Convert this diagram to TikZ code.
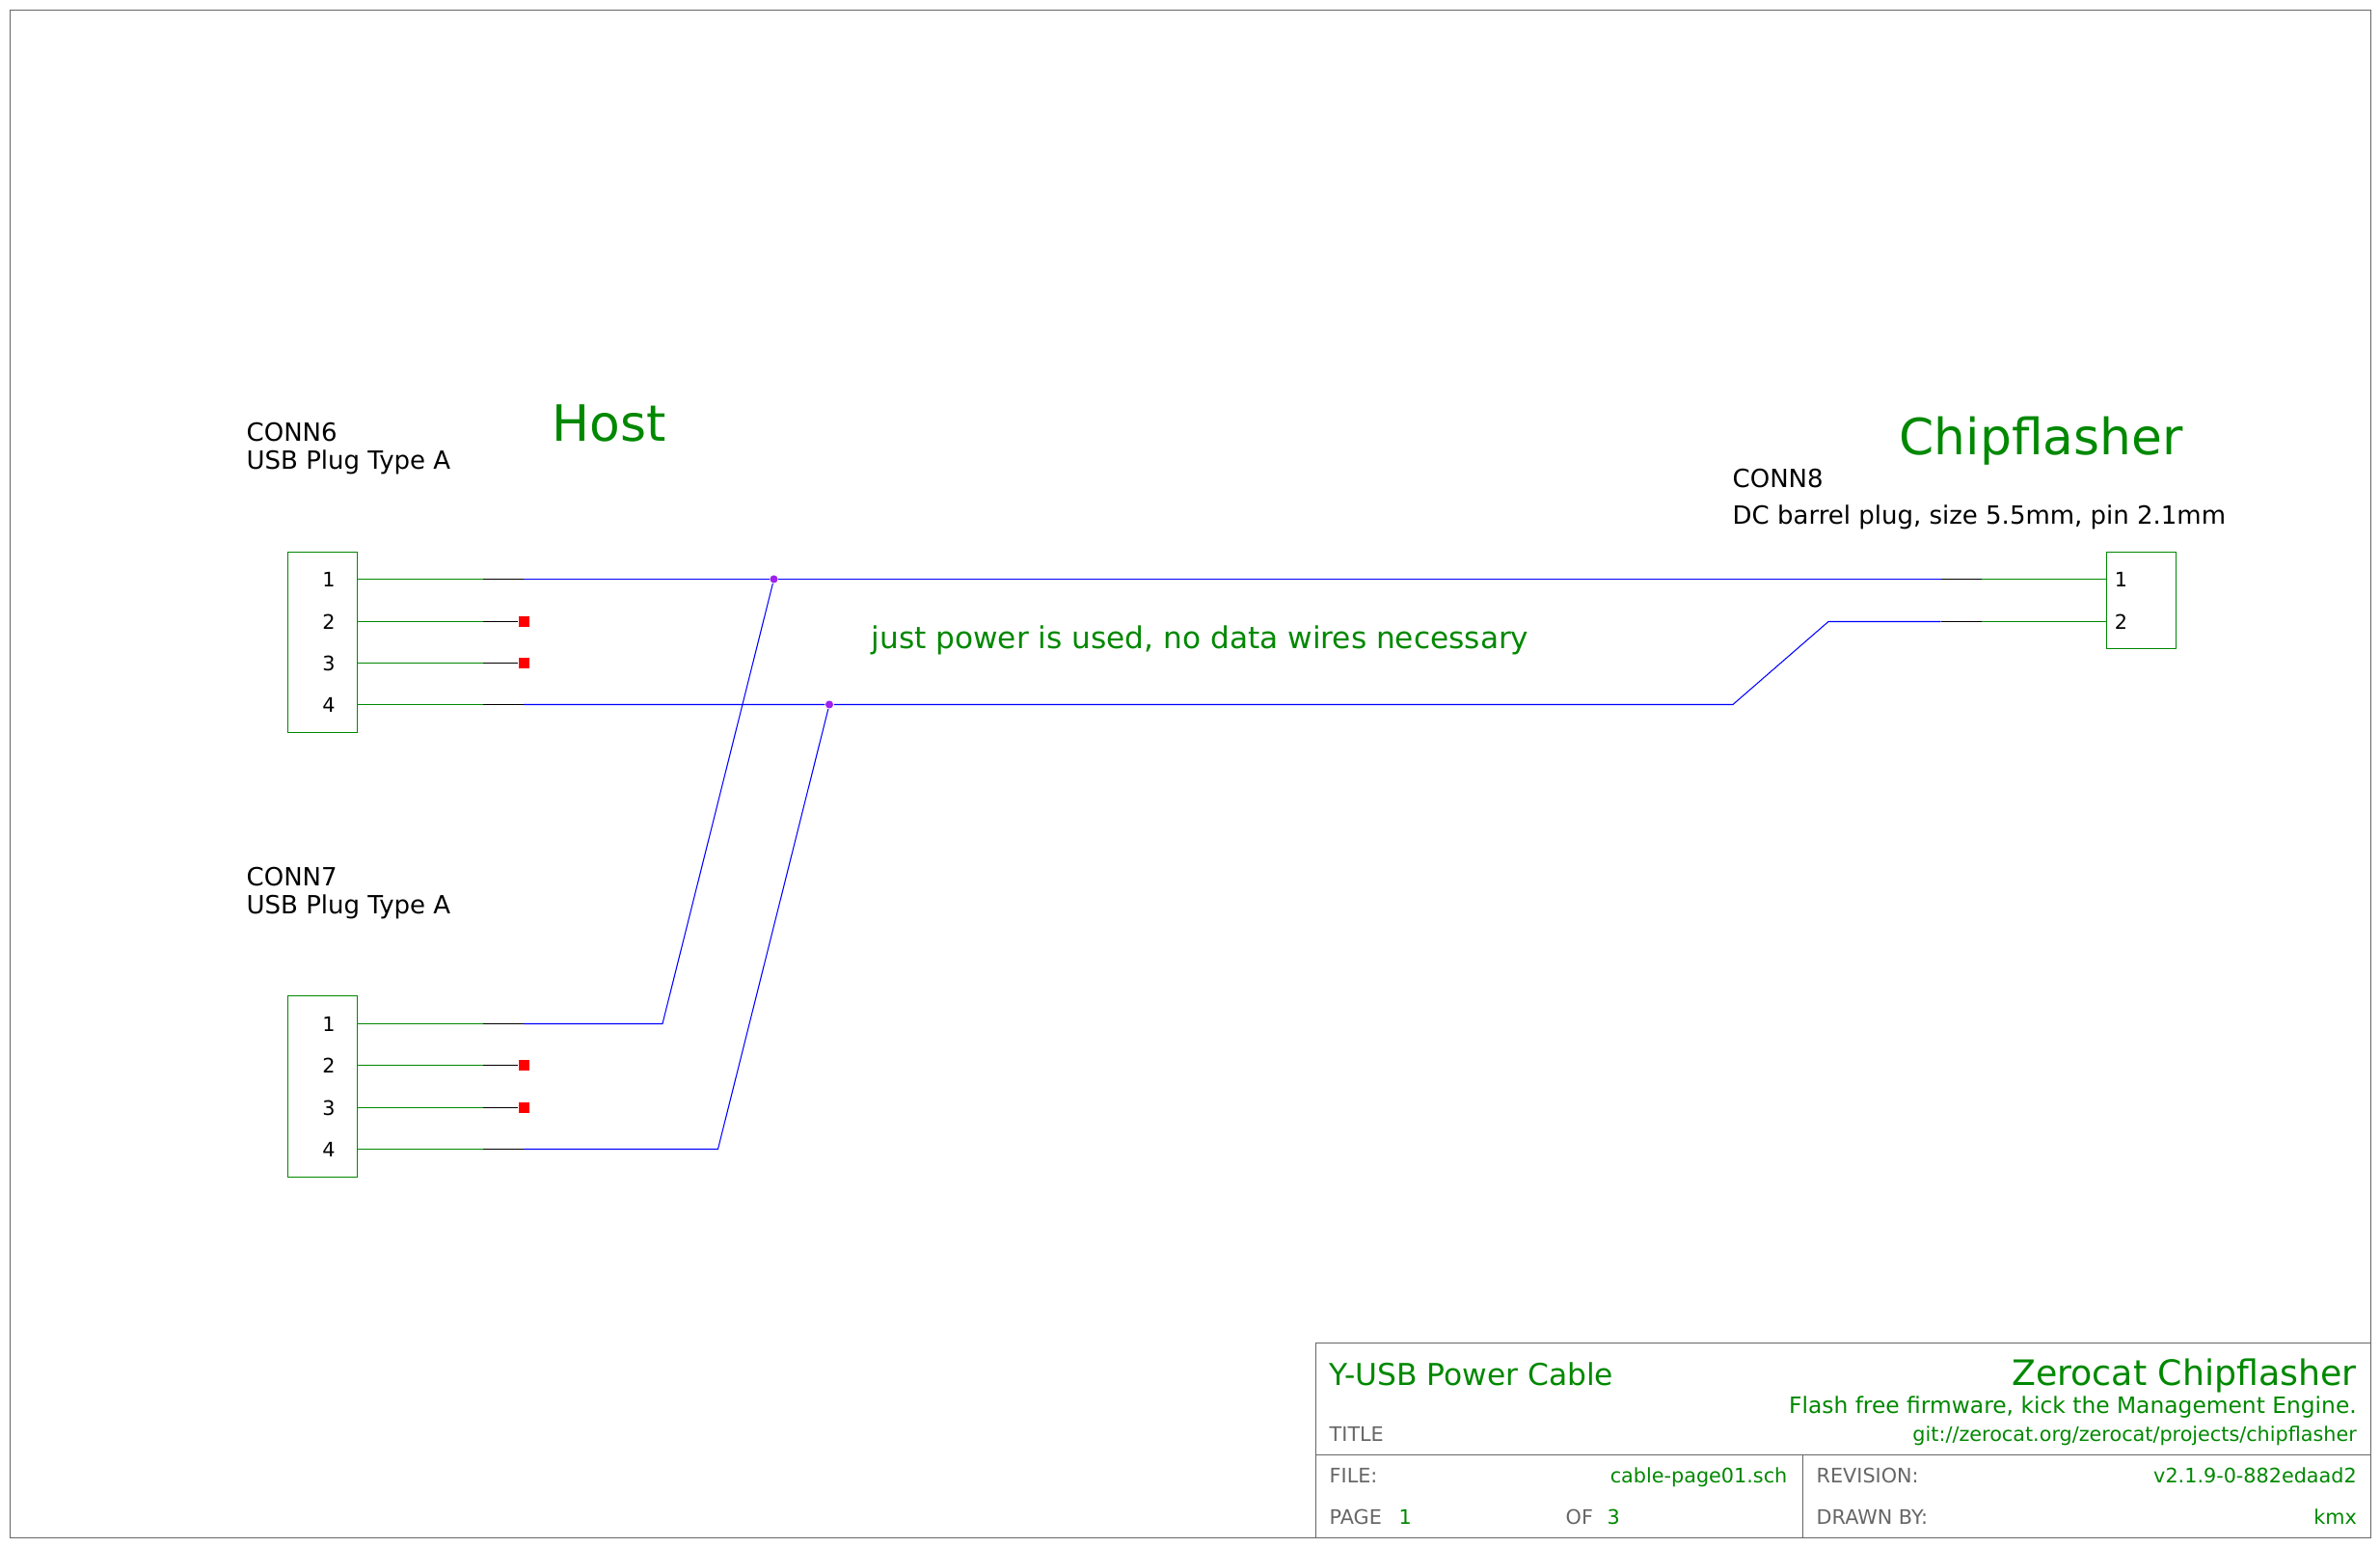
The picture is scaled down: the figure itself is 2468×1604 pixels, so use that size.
\documentclass[tikz,border=0pt]{standalone}
\usepackage{fontspec}
\setmainfont{DejaVu Sans}
\definecolor{schgreen}{RGB}{0,136,0}
\definecolor{schgray}{RGB}{102,102,102}
\definecolor{schpurple}{RGB}{160,32,240}
\tikzset{
  frameline/.style={draw=schgray, line width=0.3pt},
  connbox/.style={draw=schgreen, line width=0.3pt, inner sep=0pt},
  pinwire/.style={schgreen, line width=0.3pt},
  stubwire/.style={black, line width=0.3pt},
  netwire/.style={blue, line width=0.3pt},
  nc/.style={fill=red, inner sep=0pt, minimum size=3.1pt},
  junct/.style={circle, fill=schpurple, inner sep=0pt, minimum size=2.3pt},
  lbl/.style={inner sep=0pt, anchor=base west},
  refdes/.style={lbl, font=\fontsize{7.39}{9}\selectfont},
  pinnum/.style={inner sep=0pt, font=\fontsize{5.9}{7}\selectfont},
  bigtext/.style={lbl, schgreen, font=\fontsize{14.75}{16}\selectfont},
  notetext/.style={lbl, schgreen, font=\fontsize{8.87}{10}\selectfont},
  tbhead/.style={lbl, schgray, font=\fontsize{5.9}{7}\selectfont},
  tbval/.style={lbl, schgreen, font=\fontsize{5.9}{7}\selectfont},
  tbright/.style={tbval, anchor=base east},
}
\begin{document}
\begin{tikzpicture}[x=0.01cm, y=-0.01cm]
\useasboundingbox (0,0) rectangle (2468,1604);

% Sheet frame and title block
\node[frameline, inner sep=0pt, minimum width=2447*0.2845pt, minimum height=1583*0.2845pt] (sheet) at (1234.5,802.5) {};
\node[frameline, inner sep=0pt, minimum width=1093.5*0.2845pt, minimum height=201.5*0.2845pt] (tblock) at (1911.25,1493.25) {};
\coordinate (rowl) at (1364.5,1508.5);
\coordinate (rowr) at (2458,1508.5);
\coordinate (colt) at (1869.5,1508.5);
\coordinate (colb) at (1869.5,1594);
\draw[frameline] (rowl) -- (rowr);
\draw[frameline] (colt) -- (colb);

% Connector bodies
\node[connbox, minimum width=72*0.2845pt, minimum height=186*0.2845pt] (conn6) at (334.5,666) {};
\node[connbox, minimum width=72*0.2845pt, minimum height=188*0.2845pt] (conn7) at (334.5,1126.5) {};
\node[connbox, minimum width=72*0.2845pt, minimum height=100*0.2845pt] (conn8) at (2220.5,622.5) {};

% Pin numbers
\node[pinnum] (a1) at (341,601) {1};
\node[pinnum] (a2) at (341,645) {2};
\node[pinnum] (a3) at (341,688) {3};
\node[pinnum] (a4) at (341,730.5) {4};
\node[pinnum] (b1) at (341,1062) {1};
\node[pinnum] (b2) at (341,1105) {2};
\node[pinnum] (b3) at (341,1148.5) {3};
\node[pinnum] (b4) at (341,1191.5) {4};
\node[pinnum] (c1) at (2199.5,601) {1};
\node[pinnum] (c2) at (2199.5,644.5) {2};

% Pin ends on the connector bodies
\coordinate (a1e) at (370.5,600.5);
\coordinate (a2e) at (370.5,644.5);
\coordinate (a3e) at (370.5,687.5);
\coordinate (a4e) at (370.5,730.5);
\coordinate (b1e) at (370.5,1061.5);
\coordinate (b2e) at (370.5,1104.5);
\coordinate (b3e) at (370.5,1148.5);
\coordinate (b4e) at (370.5,1191.5);
\coordinate (c1e) at (2184.5,600.5);
\coordinate (c2e) at (2184.5,644.5);

% Where pin, stub and net meet
\coordinate (a1g) at (501,600.5);
\coordinate (a2g) at (501,644.5);
\coordinate (a3g) at (501,687.5);
\coordinate (a4g) at (501,730.5);
\coordinate (b1g) at (501,1061.5);
\coordinate (b2g) at (501,1104.5);
\coordinate (b3g) at (501,1148.5);
\coordinate (b4g) at (501,1191.5);
\coordinate (a1s) at (543,600.5);
\coordinate (a4s) at (543,730.5);
\coordinate (b1s) at (543,1061.5);
\coordinate (b4s) at (543,1191.5);
\coordinate (c1g) at (2054.5,600.5);
\coordinate (c2g) at (2054.5,644.5);
\coordinate (c1s) at (2012.5,600.5);
\coordinate (c2s) at (2012.5,644.5);

% Unconnected pins and junctions
\node[nc] (a2x) at (543.5,644.5) {};
\node[nc] (a3x) at (543.5,687.5) {};
\node[nc] (b2x) at (543.5,1104.5) {};
\node[nc] (b3x) at (543.5,1148.5) {};
\node[junct] (vcc) at (802.5,600.5) {};
\node[junct] (gnd) at (860,730.5) {};

% Wires
\draw[pinwire] (a1e) -- (a1g);
\draw[pinwire] (a2e) -- (a2g);
\draw[pinwire] (a3e) -- (a3g);
\draw[pinwire] (a4e) -- (a4g);
\draw[pinwire] (b1e) -- (b1g);
\draw[pinwire] (b2e) -- (b2g);
\draw[pinwire] (b3e) -- (b3g);
\draw[pinwire] (b4e) -- (b4g);
\draw[pinwire] (c1e) -- (c1g);
\draw[pinwire] (c2e) -- (c2g);
\draw[stubwire] (a1g) -- (a1s);
\draw[stubwire] (a2g) -- (a2x);
\draw[stubwire] (a3g) -- (a3x);
\draw[stubwire] (a4g) -- (a4s);
\draw[stubwire] (b1g) -- (b1s);
\draw[stubwire] (b2g) -- (b2x);
\draw[stubwire] (b3g) -- (b3x);
\draw[stubwire] (b4g) -- (b4s);
\draw[stubwire] (c1g) -- (c1s);
\draw[stubwire] (c2g) -- (c2s);
\draw[netwire] (a1s) -- (vcc) -- (c1s);
\draw[netwire] (a4s) -- (gnd) -- (1797,730.5) -- (1896,644.5) -- (c2s);
\draw[netwire] (b1s) -- (687,1061.5) -- (vcc);
\draw[netwire] (b4s) -- (744.5,1191.5) -- (gnd);

% Labels
\node[refdes] (conn6a) at (255,458) {CONN6};
\node[refdes] (conn6b) at (255,487) {USB Plug Type A};
\node[refdes] (conn7a) at (255,919) {CONN7};
\node[refdes] (conn7b) at (255,948) {USB Plug Type A};
\node[refdes] (conn8a) at (1796,506) {CONN8};
\node[refdes] (conn8b) at (1796,544) {DC barrel plug, size 5.5mm, pin 2.1mm};
\node[bigtext] (host) at (572,458) {Host};
\node[bigtext] (flasher) at (1969,472) {Chipflasher};
\node[notetext] (note) at (903,673) {just power is used, no data wires necessary};

% Title block text
\node[lbl, schgreen, font=\fontsize{8.9}{10}\selectfont] (tbtitle) at (1378,1437) {Y-USB Power Cable};
\node[lbl, anchor=base east, schgreen, font=\fontsize{10.33}{12}\selectfont] (tbname) at (2444.5,1437) {Zerocat Chipflasher};
\node[lbl, anchor=base east, schgreen, font=\fontsize{6.64}{8}\selectfont] (tbsub) at (2444.5,1466) {Flash free firmware, kick the Management Engine.};
\node[tbright] (tburl) at (2444.5,1495) {git://zerocat.org/zerocat/projects/chipflasher};
\node[tbhead] (tbt) at (1378,1494.5) {TITLE};
\node[tbhead] (tbf) at (1378,1538) {FILE:};
\node[tbright] (tbfile) at (1854,1538) {cable-page01.sch};
\node[tbhead] (tbp) at (1378,1581) {PAGE};
\node[tbval] (tbpage) at (1450,1581) {1};
\node[tbhead] (tbo) at (1623,1581) {OF};
\node[tbval] (tbof) at (1666,1581) {3};
\node[tbhead] (tbr) at (1883,1538) {REVISION:};
\node[tbright] (tbrev) at (2444.5,1538) {v2.1.9-0-882edaad2};
\node[tbhead] (tbd) at (1883,1581) {DRAWN BY:};
\node[tbright] (tbdrawn) at (2444.5,1581) {kmx};
\end{tikzpicture}
\end{document}
